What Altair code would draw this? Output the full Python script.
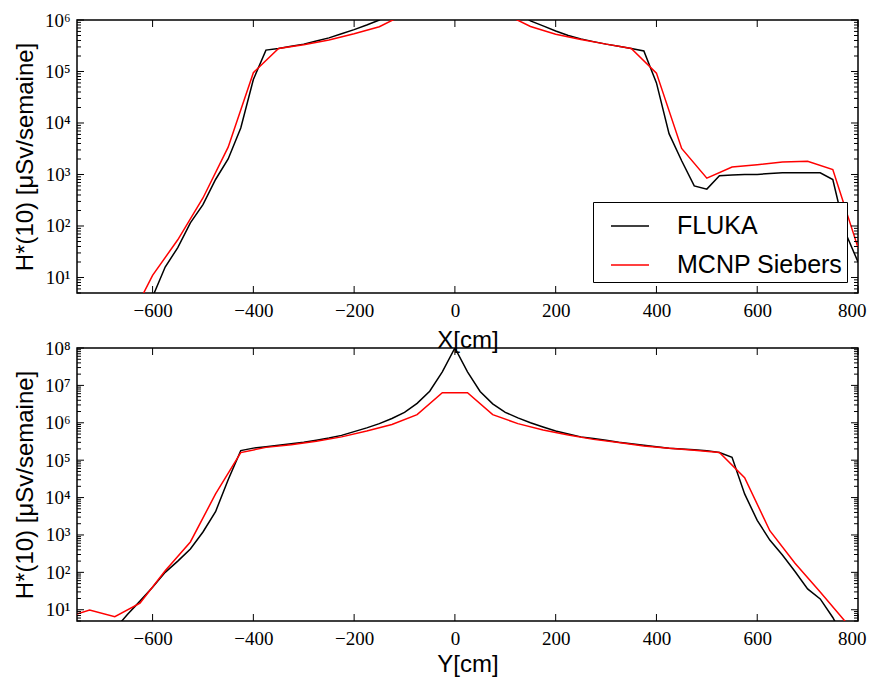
import altair as alt
import pandas as pd

# ---------------- data ----------------
# Top panel: scan along X
fluka_x_pos = [-650, -625, -600, -575, -550, -525, -500, -475, -450, -425, -400, -375,
               -350, -325, -300, -275, -250, -225, -200, -175, -150, -125, -100, -75,
               -50, -25, 0, 25, 50, 75, 100, 125, 150, 175, 200, 225, 250, 275, 300,
               325, 350, 375, 400, 425, 450, 475, 500, 525, 550, 575, 600, 625, 650,
               675, 700, 725, 750, 775, 800]
fluka_x_val = [0.5, 1.5, 4.2, 16, 38, 115, 260, 800, 2000, 8000, 70000, 260000,
               280000, 310000, 340000, 390000, 450000, 540000, 650000, 800000, 1000000,
               1500000, 2200000, 4000000, 8000000, 25000000, 100000000, 25000000,
               8000000, 4000000, 2200000, 1450000, 960000, 770000, 610000, 500000,
               430000, 380000, 340000, 310000, 280000, 250000, 60000, 6200, 1850, 600,
               520, 950, 980, 1000, 1000, 1050, 1080, 1080, 1080, 1080, 800, 75, 20]

mcnp_x_pos = [-650, -600, -550, -500, -450, -400, -350, -300, -250, -200, -150, -100,
              -50, 0, 50, 100, 150, 200, 250, 300, 350, 400, 450, 500, 550, 600, 650,
              700, 750, 800]
mcnp_x_val = [1.2, 11, 54, 350, 3400, 95000, 280000, 330000, 410000, 540000, 740000,
              1300000, 3000000, 6000000, 3000000, 1300000, 750000, 530000, 420000,
              340000, 280000, 93000, 3200, 850, 1400, 1550, 1750, 1800, 1250, 38]

# Bottom panel: scan along Y
fluka_y_pos = [-700, -675, -650, -625, -600, -575, -550, -525, -500, -475, -450, -425,
               -400, -375, -350, -325, -300, -275, -250, -225, -200, -175, -150, -125,
               -100, -75, -50, -25, 0, 25, 50, 75, 100, 125, 150, 175, 200, 225, 250,
               275, 300, 325, 350, 375, 400, 425, 450, 475, 500, 525, 550, 575, 600,
               625, 650, 675, 700, 725, 750, 775]
fluka_y_val = [1.5, 3, 7.5, 17, 40, 100, 200, 420, 1200, 4200, 30000, 180000,
               210000, 230000, 250000, 275000, 300000, 340000, 390000, 460000, 580000,
               730000, 950000, 1300000, 1900000, 3300000, 7000000, 23000000, 100000000,
               23000000, 6900000, 3200000, 1900000, 1350000, 1000000, 770000, 600000,
               500000, 420000, 380000, 340000, 300000, 275000, 250000, 230000, 210000,
               200000, 190000, 180000, 160000, 120000, 12500, 2450, 730, 290, 105, 36,
               19.5, 6.2, 1.5]

mcnp_y_pos = [-775, -725, -675, -625, -575, -525, -475, -425, -375, -325, -275, -225,
              -175, -125, -75, -25, 25, 75, 125, 175, 225, 275, 325, 375, 425, 475,
              525, 575, 625, 675, 725, 775]
mcnp_y_val = [6, 9.8, 6.5, 15, 110, 650, 12500, 160000, 220000, 260000, 320000, 420000,
              600000, 900000, 1650000, 6400000, 6400000, 1650000, 950000, 640000,
              470000, 360000, 295000, 240000, 210000, 185000, 160000, 34000, 1300, 175,
              30, 4.8]

series_names = ["FLUKA", "MCNP Siebers"]
series_colors = ["black", "red"]

x_ticks = [-600, -400, -200, 0, 200, 400, 600, 800]
x_domain = [-750, 800]
top_y_domain = [5, 1e6]
bottom_y_domain = [5, 1e8]
top_decades = [1e1, 1e2, 1e3, 1e4, 1e5, 1e6]
bottom_decades = [1e1, 1e2, 1e3, 1e4, 1e5, 1e6, 1e7, 1e8]

y_title = "H*(10) [\u03bcSv/semaine]"

W, H = 781, 273
SERIF = "Liberation Serif"
SANS = "Liberation Sans"

SUP_EXPR = ("'10' + ['\u2070','\u00b9','\u00b2','\u00b3','\u2074','\u2075','\u2076',"
            "'\u2077','\u2078','\u2079'][round(log(datum.value)/LN10)]")


def minor_ticks(lo, hi):
    out = []
    for e in range(0, 9):
        for m in range(2, 10):
            v = m * 10 ** e
            if lo <= v <= hi:
                out.append(v)
    return out


def panel(fx, fv, mx, mv, ydom, decades, xtitle, xtitle_y, show_legend):
    df = pd.DataFrame({
        "x": fx + mx,
        "v": fv + mv,
        "s": [series_names[0]] * len(fx) + [series_names[1]] * len(mx),
    })
    xs = alt.Scale(domain=x_domain, nice=False, zero=False)
    ys = alt.Scale(type="log", domain=ydom, nice=False)
    x_axis = alt.Axis(values=x_ticks, title=xtitle, titleY=xtitle_y,
                      titleBaseline="alphabetic", labelPadding=8, format="d",
                      labelFlush=1, labelFlushOffset=8)
    y_axis = alt.Axis(values=decades, title=y_title, titleX=-45, titleY=H / 2,
                      titleBaseline="alphabetic", labelPadding=7, labelExpr=SUP_EXPR,
                      labelFlush=False)
    X = alt.X("x:Q", scale=xs, axis=x_axis)
    Y = alt.Y("v:Q", scale=ys, axis=y_axis)

    legend = alt.Legend(
        title=None, orient="bottom-right", offset=11, strokeColor="black",
        fillColor="white", padding=4, symbolType="stroke", symbolSize=1444,
        symbolStrokeWidth=1.5, labelFont=SANS, labelFontSize=25, labelColor="black",
        labelOffset=27, symbolOffset=13, rowPadding=6, cornerRadius=0,
        labelLimit=400,
    ) if show_legend else None

    line = alt.Chart(df).mark_line(clip=True, strokeWidth=1.5).encode(
        x=X, y=Y,
        color=alt.Color("s:N", scale=alt.Scale(domain=series_names, range=series_colors),
                        legend=legend),
    )

    major = pd.DataFrame({"v": decades})
    minor = pd.DataFrame({"v": minor_ticks(ydom[0], ydom[1])})
    xt = pd.DataFrame({"x": x_ticks})

    layers = [line]
    for d, L in [(major, 7), (minor, 4)]:
        layers.append(alt.Chart(d).mark_rule(color="black", strokeWidth=1).encode(
            y=Y, x=alt.value(0), x2=alt.value(L)))
        layers.append(alt.Chart(d).mark_rule(color="black", strokeWidth=1).encode(
            y=Y, x=alt.value(W), x2=alt.value(W - L)))
    layers.append(alt.Chart(xt).mark_rule(color="black", strokeWidth=1).encode(
        x=X, y=alt.value(0), y2=alt.value(7)))
    layers.append(alt.Chart(xt).mark_rule(color="black", strokeWidth=1).encode(
        x=X, y=alt.value(H), y2=alt.value(H - 7)))

    return alt.layer(*layers).properties(width=W, height=H)


top = panel(fluka_x_pos, fluka_x_val, mcnp_x_pos, mcnp_x_val,
            top_y_domain, top_decades, "X[cm]", 54, True)
bottom = panel(fluka_y_pos, fluka_y_val, mcnp_y_pos, mcnp_y_val,
               bottom_y_domain, bottom_decades, "Y[cm]", 50, False)

chart = alt.vconcat(top, bottom, spacing=55, bounds="flush").resolve_scale(
    color="independent").resolve_legend(color="independent").properties(
    padding={"left": 4, "top": 2, "right": 0, "bottom": 0},
    background="white",
).configure_view(stroke="black", strokeWidth=1.5).configure_axis(
    domain=False, ticks=False, tickSize=0, grid=False,
    labelFont=SERIF, labelFontSize=19, labelColor="black",
    titleFont=SANS, titleFontSize=24, titleFontWeight="normal", titleColor="black",
)

chart.save("out.html", embed_options={"renderer": "svg", "actions": False})
